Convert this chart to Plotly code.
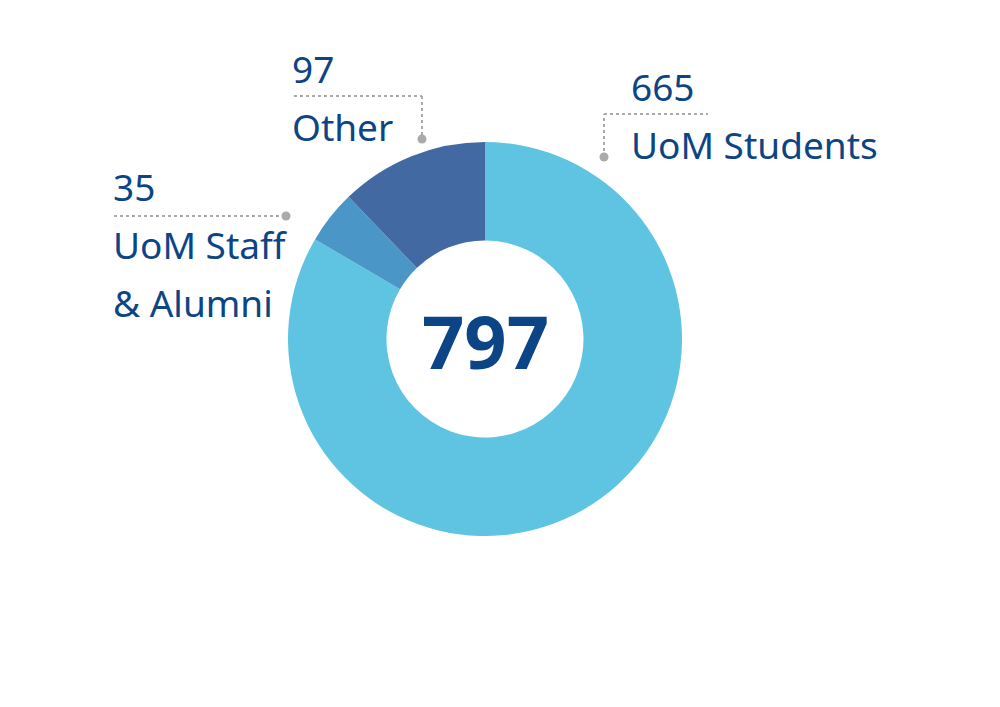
import plotly.graph_objects as go

labels = ["UoM Students", "UoM Staff & Alumni", "Other"]
values = [665, 35, 97]
label_lines = [["UoM Students"], ["UoM Staff", "& Alumni"], ["Other"]]
colors = ["#5FC4E1", "#4A97C7", "#4269A1"]

W, H = 1000, 707
OFF = 8  # page body margin
TEXT = "#0C4585"
FONT = "Noto Sans"
FS = 37
LH = 58

def px(x):
    return (x - OFF) / W

def py(y):
    return 1 - (y - OFF) / H

fig = go.Figure(go.Pie(
    labels=labels, values=values, hole=0.5, sort=False,
    direction="clockwise", rotation=0,
    marker=dict(colors=colors, line=dict(width=0)),
    textinfo="none", hoverinfo="label+value", showlegend=False,
    domain=dict(x=[px(288), px(682)], y=[py(536), py(142)]),
))

# label layout: (text left x, value baseline y, leader path points, dot point)
label_layout = [
    dict(tx=629, by=100, path=[(604, 157), (604, 114), (708, 114)], dot=(604, 157)),
    dict(tx=111, by=200, path=[(114, 216), (286, 216)], dot=(286, 216)),
    dict(tx=290, by=82, path=[(294, 96), (422, 96), (422, 139)], dot=(422, 139)),
]

annotations = []
shapes = []
for val, lines, lay in zip(values, label_lines, label_layout):
    rows = [str(val)] + lines
    for i, r in enumerate(rows):
        base = lay["by"] + i * LH
        annotations.append(dict(
            x=px(lay["tx"]), y=py(base - 0.36 * FS), xref="paper", yref="paper",
            xanchor="left", yanchor="middle", showarrow=False, text=r,
            font=dict(family=FONT, size=FS, color=TEXT)))
    pts = lay["path"]
    for (x0, y0), (x1, y1) in zip(pts[:-1], pts[1:]):
        shapes.append(dict(type="line", xref="paper", yref="paper",
                           x0=px(x0), y0=py(y0), x1=px(x1), y1=py(y1),
                           line=dict(color="#AAAAAA", width=2, dash="dot")))
    dx, dy = lay["dot"]
    r = 4.5
    shapes.append(dict(type="circle", xref="paper", yref="paper",
                       x0=px(dx - r), x1=px(dx + r), y0=py(dy + r), y1=py(dy - r),
                       fillcolor="#AAAAAA", line=dict(width=0)))

annotations.append(dict(
    x=px(485), y=py(340), xref="paper", yref="paper", xanchor="center",
    yanchor="middle", showarrow=False, text="<b>%d</b>" % sum(values),
    font=dict(family=FONT, size=74, color=TEXT)))

fig.update_layout(
    width=W, height=H, margin=dict(l=0, r=0, t=0, b=0),
    paper_bgcolor="white", plot_bgcolor="white",
    annotations=annotations, shapes=shapes,
)

fig.write_html("out.html")
